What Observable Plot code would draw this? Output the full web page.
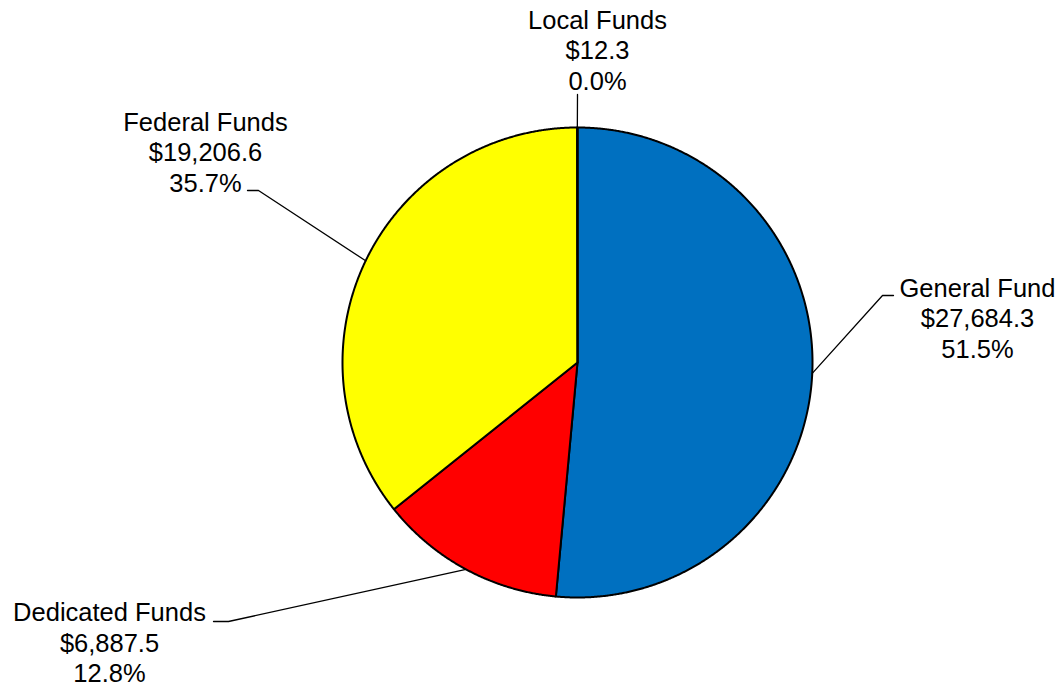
<!DOCTYPE html>
<html>
<head>
<meta charset="utf-8">
<script src="https://cdn.jsdelivr.net/npm/d3@7"></script>
<script src="https://cdn.jsdelivr.net/npm/@observablehq/plot@0.6"></script>
<style>
  html, body { margin: 0; padding: 0; background: #fff; }
  #chart svg { display: block; }
</style>
</head>
<body>
<div id="chart"></div>
<script>
// ---- data ----
const names = ["General Fund", "Dedicated Funds", "Federal Funds", "Local Funds"];
const amounts = [27684.3, 6887.5, 19206.6, 12.3];
const colors = ["#0070C0", "#FF0000", "#FFFF00", "#92D050"];

// ---- layout ----
const W = 1061, H = 687;
const cx = 577, cy = 362, R = 235;
const FONT = 25.5;
// label block: center x, top y; leader: elbow point then end point near text
const labelPos = {
  "General Fund":    {x: 977, y: 274.5, elbow: [882, 295], end: [893, 295]},
  "Dedicated Funds": {x: 109, y: 599,   elbow: [228, 621], end: [213, 621]},
  "Federal Funds":   {x: 205, y: 108.5, elbow: [258, 190], end: [247, 190]},
  "Local Funds":     {x: 597, y: 6.5,   elbow: [577, 94],  end: [577, 94]}
};

const total = d3.sum(amounts);
const fmtMoney = d3.format("$,.1f");
const fmtPct = d3.format(".1%");

// slice angles (clockwise from 12 o'clock)
let acc = 0;
const slices = names.map((name, i) => {
  const a0 = acc / total * 2 * Math.PI;
  acc += amounts[i];
  const a1 = acc / total * 2 * Math.PI;
  return {name, value: amounts[i], color: colors[i], a0, a1, mid: (a0 + a1) / 2};
});
const px = a => cx + R * Math.sin(a);
const py = a => cy - R * Math.cos(a);

// polygon points for each slice
const slicePts = [];
for (const s of slices) {
  slicePts.push({name: s.name, color: s.color, x: cx, y: cy});
  const n = Math.max(2, Math.ceil((s.a1 - s.a0) / (Math.PI / 720)));
  for (let k = 0; k <= n; k++) {
    const a = s.a0 + (s.a1 - s.a0) * k / n;
    slicePts.push({name: s.name, color: s.color, x: px(a), y: py(a)});
  }
  slicePts.push({name: s.name, color: s.color, x: cx, y: cy});
}

// leader lines
const leaderPts = [];
for (const s of slices) {
  const L = labelPos[s.name];
  leaderPts.push({name: s.name, x: px(s.mid), y: py(s.mid)});
  leaderPts.push({name: s.name, x: L.elbow[0], y: L.elbow[1]});
  leaderPts.push({name: s.name, x: L.end[0], y: L.end[1]});
}

const labels = slices.map(s => ({
  name: s.name,
  x: labelPos[s.name].x,
  y: labelPos[s.name].y,
  text: `${s.name}\n${fmtMoney(s.value)}\n${fmtPct(s.value / total)}`
}));

const chart = Plot.plot({
  width: W,
  height: H,
  margin: 0,
  x: {domain: [0, W], range: [0, W], axis: null},
  y: {domain: [0, H], range: [0, H], axis: null},
  color: {type: "identity"},
  style: {background: "#fff", fontFamily: "'Liberation Sans', Arial, sans-serif"},
  marks: [
    Plot.line(slicePts, {x: "x", y: "y", z: "name", fill: "color", stroke: "#000", strokeWidth: 2, strokeLinejoin: "round", curve: "linear"}),
    Plot.line(leaderPts, {x: "x", y: "y", z: "name", stroke: "#000", strokeWidth: 1.3, curve: "linear"}),
    Plot.text(labels, {x: "x", y: "y", text: "text", textAnchor: "middle", lineAnchor: "top", lineHeight: 1.2, fontSize: FONT, fill: "#000", fontFamily: "'Liberation Sans', Arial, sans-serif"})
  ]
});
document.getElementById("chart").appendChild(chart);
</script>
</body>
</html>
